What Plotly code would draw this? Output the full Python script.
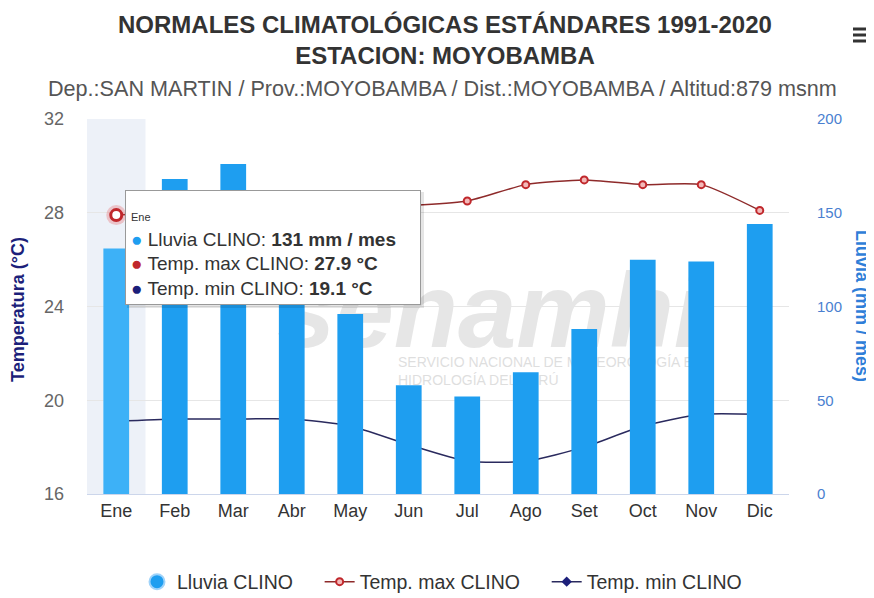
import plotly.graph_objects as go

months = ["Ene", "Feb", "Mar", "Abr", "May", "Jun", "Jul", "Ago", "Set", "Oct", "Nov", "Dic"]
lluvia = [131, 168, 176, 149, 96, 58, 52, 65, 88, 125, 124, 144]
tmax = [27.9, 28.0, 28.0, 28.1, 28.1, 28.3, 28.5, 29.2, 29.4, 29.2, 29.2, 28.1]
tmin = [19.1, 19.2, 19.2, 19.2, 18.9, 18.1, 17.4, 17.4, 18.0, 18.9, 19.4, 19.4]

temp_ticks = [16, 20, 24, 28, 32]
rain_ticks = [0, 50, 100, 150, 200]

BLUE = "#1e9ef0"
RED = "#c0282c"
NAVY = "#1c1f7a"
FONT = "Liberation Sans"
NB = "\u00a0"

# page has an 8px body margin: the figure is drawn 8px right/down
OFF = 8
# plot area in page pixels
L, R, T, B = 87, 789, 119, 494
W, H = 874, 598
def px(x):
    return (x - L) / (R - L)
def py(y):
    return (B - y) / (B - T)

fig = go.Figure()

fig.add_trace(go.Bar(
    x=months, y=lluvia, name="Lluvia CLINO", yaxis="y2", showlegend=False,
    marker=dict(color=[("#3db1f7" if i == 0 else BLUE) for i in range(len(months))],
                line=dict(width=0)),
    width=0.44,
))
# legend entry for the rain series (round symbol like the reference)
fig.add_trace(go.Scatter(
    x=[None], y=[None], name="Lluvia CLINO" + NB * 4, mode="markers",
    marker=dict(symbol="circle", size=15, color=BLUE, line=dict(color="#9fd3fa", width=2)),
))
fig.add_trace(go.Scatter(
    x=months, y=tmax, name="Temp. max CLINO" + NB * 4, mode="lines+markers",
    line=dict(color="#8e2a2a", width=1.5, shape="spline", smoothing=0.6),
    marker=dict(symbol="circle", size=7, color="#f3b9b9", line=dict(color=RED, width=2)),
))
fig.add_trace(go.Scatter(
    x=months, y=tmin, name="Temp. min CLINO", mode="lines+markers",
    line=dict(color="#2a2a5e", width=1.5, shape="spline", smoothing=0.6),
    marker=dict(symbol="diamond", size=8, color=NAVY, line=dict(width=0)),
))
# hover state markers for the first month
fig.add_trace(go.Scatter(
    x=[months[0]], y=[tmax[0]], mode="markers", showlegend=False, hoverinfo="skip",
    marker=dict(symbol="circle", size=20, color="rgba(230,60,60,0.25)", line=dict(width=0)),
))
fig.add_trace(go.Scatter(
    x=[months[0]], y=[tmax[0]], mode="markers", showlegend=False, hoverinfo="skip",
    marker=dict(symbol="circle", size=11, color="white", line=dict(color=RED, width=3)),
))
fig.add_trace(go.Scatter(
    x=[months[0]], y=[tmin[0]], mode="markers", showlegend=False, hoverinfo="skip",
    marker=dict(symbol="diamond", size=14, color="white", line=dict(color="#2626b0", width=3)),
))

tooltip = (
    f"<span style='font-size:11px'>{months[0]}</span><br>"
    f"<span style='color:{BLUE}'>●</span> Lluvia CLINO: <b>{lluvia[0]} mm / mes</b><br>"
    f"<span style='color:{RED}'>●</span> Temp. max CLINO: <b>{tmax[0]} °C</b><br>"
    f"<span style='color:{NAVY}'>●</span> Temp. min CLINO: <b>{tmin[0]} °C</b>"
)

shapes = [
    dict(type="rect", xref="x", yref="paper", x0=-0.5, x1=0.5, y0=0, y1=1,
         fillcolor="rgba(204,214,235,0.35)", line=dict(width=0), layer="below"),
    # watermark (drawn beneath the data)
    dict(type="rect", xref="paper", yref="paper", x0=px(250), x1=px(730), y0=py(350), y1=py(250),
         fillcolor="rgba(0,0,0,0)", line=dict(width=0), layer="below",
         label=dict(text="<i><b>senamhi</b></i>", textposition="middle center",
                    font=dict(size=105, family=FONT, color="rgba(190,190,190,0.38)"))),
    dict(type="rect", xref="paper", yref="paper", x0=px(395), x1=px(730), y0=py(390), y1=py(350),
         fillcolor="rgba(0,0,0,0)", line=dict(width=0), layer="below",
         label=dict(text="SERVICIO NACIONAL DE METEOROLOGÍA E<br>HIDROLOGÍA DEL PERÚ",
                    textposition="middle left", padding=0,
                    font=dict(size=14, family=FONT, color="rgba(190,190,190,0.5)"))),
    # tooltip shadow
    dict(type="rect", xref="paper", yref="paper", x0=px(127), x1=px(424), y0=py(308), y1=py(192),
         fillcolor="rgba(0,0,0,0.10)", line=dict(width=0), layer="above"),
]
# hamburger menu icon
for yy in (29, 35, 41):
    shapes.append(dict(type="line", xref="paper", yref="paper", x0=px(853), x1=px(871),
                       y0=py(yy), y1=py(yy), line=dict(color="#333333", width=3)))

fig.update_layout(
    width=W, height=H,
    margin=dict(l=L - OFF, r=W - (R - OFF), t=T - OFF, b=H - (B - OFF), autoexpand=False),
    paper_bgcolor="white", plot_bgcolor="white",
    font=dict(family=FONT, size=14, color="#333333"),
    showlegend=True,
    legend=dict(orientation="h", x=px(442), xanchor="center", y=py(582), yanchor="middle",
                font=dict(size=19.5, color="#333333"), itemwidth=30, tracegroupgap=0),
    xaxis=dict(
        tickfont=dict(size=18, color="#333333"), showgrid=False,
        showline=True, linecolor="#ccd6eb", linewidth=1,
        ticks="", range=[-0.5, 11.5], automargin=False,
    ),
    yaxis=dict(
        range=[16, 32], tickvals=temp_ticks, showgrid=True, gridcolor="#e6e6e6",
        tickfont=dict(size=18, color="#666666"), zeroline=False, automargin=False,
        ticklabelstandoff=22,
    ),
    yaxis2=dict(
        range=[0, 200], tickvals=rain_ticks, overlaying="y", side="right",
        showgrid=False, zeroline=False, automargin=False,
        tickfont=dict(size=15, color="#4a7fd0"), ticklabelstandoff=27,
    ),
    shapes=shapes,
    annotations=[
        dict(text="<b>NORMALES CLIMATOLÓGICAS ESTÁNDARES 1991-2020</b><br><b>ESTACION: MOYOBAMBA</b>",
             xref="paper", yref="paper", x=px(445), y=py(40), xanchor="center", yanchor="middle",
             showarrow=False, font=dict(size=24, color="#333333"), align="center"),
        dict(text="Dep.:SAN MARTIN / Prov.:MOYOBAMBA / Dist.:MOYOBAMBA / Altitud:879 msnm",
             xref="paper", yref="paper", x=px(442), y=py(88), xanchor="center", yanchor="middle",
             showarrow=False, font=dict(size=21.6, color="#555555")),
        dict(text="<b>Temperatura (°C)</b>", xref="paper", yref="paper", x=px(18), y=py(310),
             xanchor="center", yanchor="middle", textangle=-90, showarrow=False,
             font=dict(size=18, color=NAVY)),
        dict(text="<b>Lluvia (mm / mes)</b>", xref="paper", yref="paper", x=px(862), y=py(306),
             xanchor="center", yanchor="middle", textangle=90, showarrow=False,
             font=dict(size=18, color="#2f7ed8")),
        dict(text=tooltip, xref="paper", yref="paper", x=px(125), y=py(190),
             xanchor="left", yanchor="top", showarrow=False, align="left", valign="bottom",
             width=284, height=103,
             bgcolor="white", bordercolor="#999999", borderwidth=1, borderpad=5,
             font=dict(size=19, color="#333333")),
    ],
)

fig.write_html("out.html")
